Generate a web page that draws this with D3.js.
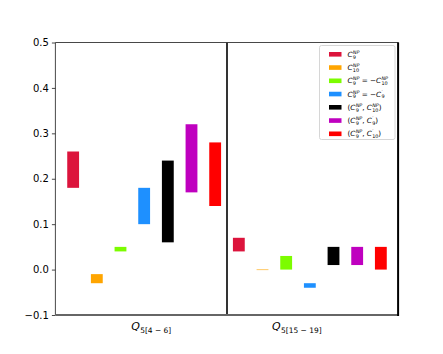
<!DOCTYPE html>
<html><head><meta charset="utf-8">
<script src="https://cdn.jsdelivr.net/npm/d3@7"></script>
<style>body{margin:0;background:#fff}svg{display:block}</style>
</head><body>
<svg id="c" width="443" height="354"></svg>
<script>
// ---- data ----
const seriesNames = ["C9NP","C10NP","C9NP=-C10NP","C9NP=-C9p","(C9NP,C10NP)","(C9NP,C9p)","(C9NP,C10p)"];
const seriesColors = ["#DC143C","#FFA500","#7CFC00","#1E90FF","#000000","#BF00BF","#FF0000"];
const groups = ["Q5[4-6]","Q5[15-19]"];
const lowBin = [0.18,-0.03,0.04,0.10,0.06,0.17,0.14];
const highBin = [0.26,-0.01,0.05,0.18,0.24,0.32,0.28];
const lowBin2 = [0.04,-0.001,0.00,-0.04,0.01,0.01,0.00];
const highBin2 = [0.07,0.001,0.03,-0.03,0.05,0.05,0.05];
const groupLabelSub = ["5[4 \u2212 6]","5[15 \u2212 19]"];
const groupLabelPos = [3.3,9.45];
const yTicks = [-0.1,0.0,0.1,0.2,0.3,0.4,0.5];
const legendLabels = [
  [["C",{sub:"9",sup:"NP"}]],
  [["C",{sub:"10",sup:"NP"}]],
  [["C",{sub:"9",sup:"NP"}],[" = \u2212"],["C",{sub:"10",sup:"NP"}]],
  [["C",{sub:"9",sup:"NP"}],[" = \u2212"],["C",{sub:"9",sup:"\u2032"}]],
  [["("],["C",{sub:"9",sup:"NP"}],[", "],["C",{sub:"10",sup:"NP"}],[")"]],
  [["("],["C",{sub:"9",sup:"NP"}],[", "],["C",{sub:"9",sup:"\u2032"}],[")"]],
  [["("],["C",{sub:"9",sup:"NP"}],[", "],["C",{sub:"10",sup:"\u2032"}],[")"]]
];

// build bar table
const bars = [];
[ [lowBin,highBin], [lowBin2,highBin2] ].forEach((pair,g)=>{
  pair[0].forEach((lo,i)=>bars.push({idx:g*7+i, lo:lo, hi:pair[1][i], color:seriesColors[i]}));
});

const svg = d3.select("#c");
const L=55.4,R=398.6,T=42.5,B=315;
const x = d3.scaleLinear().domain([-0.75,13.75]).range([L,R]);
const y = d3.scaleLinear().domain([-0.1,0.5]).range([B,T]);
const font = "DejaVu Sans, sans-serif";

// bars
const bw = x(0.5)-x(0);
svg.append("g").selectAll("rect").data(bars).join("rect")
  .attr("x",d=>x(d.idx)-bw/2).attr("width",bw)
  .attr("y",d=>y(d.hi)).attr("height",d=>Math.max(1,y(d.lo)-y(d.hi)))
  .attr("fill",d=>d.color)
  .attr("opacity",d=>(d.hi-d.lo)<0.005?0.6:1);

// divider
svg.append("line").attr("x1",x(6.5)).attr("x2",x(6.5)).attr("y1",T).attr("y2",B)
  .attr("stroke","#000").attr("stroke-width",1.6);

// spines
svg.append("line").attr("x1",L).attr("x2",R).attr("y1",T).attr("y2",T).attr("stroke","#333").attr("stroke-width",0.9);
svg.append("line").attr("x1",L).attr("x2",L).attr("y1",T).attr("y2",B).attr("stroke","#333").attr("stroke-width",0.9);
svg.append("line").attr("x1",L).attr("x2",R).attr("y1",B).attr("y2",B).attr("stroke","#666").attr("stroke-width",2);
svg.append("line").attr("x1",R-0.5).attr("x2",R-0.5).attr("y1",T).attr("y2",B+1).attr("stroke","#000").attr("stroke-width",2);

// y axis
const yAxis = d3.axisLeft(y).tickValues(yTicks).tickSize(3.5).tickPadding(3)
  .tickFormat(d=>d3.format(".1f")(d).replace("-","\u2212"));
const ga = svg.append("g").attr("transform",`translate(${L},0)`).call(yAxis);
ga.select(".domain").remove();
ga.selectAll(".tick line").attr("stroke","#333").attr("stroke-width",0.9);
ga.selectAll(".tick text").attr("font-family",font).attr("font-size",10).attr("fill","#000");

// measuring helper
const meas = svg.append("text").attr("font-family",font).style("white-space","pre").attr("visibility","hidden");
function textW(s, fs, italic){
  meas.attr("font-size",fs).attr("font-style",italic?"italic":"normal").text(s);
  return meas.node().getComputedTextLength();
}

// math rendering: one <text> per label, absolute-positioned tspans
function drawMath(parent, x0, yBase, tokens, fs){
  const t = parent.append("text").attr("font-family",font).attr("font-size",fs).style("white-space","pre");
  let cx = x0;
  tokens.forEach(tok=>{
    tok.forEach(p=>{
      if(typeof p === "string"){
        const isVar = (p==="C"||p==="Q");
        t.append("tspan").attr("x",cx).attr("y",yBase).attr("font-style",isVar?"italic":"normal").text(p);
        cx += textW(p,fs,isVar) + (isVar?0.3:0);
      } else {
        let w=0;
        const sfs = fs*0.68;
        if(p.sup){
          t.append("tspan").attr("x",cx).attr("y",yBase-fs*0.42).attr("font-size",sfs).attr("font-style","italic").text(p.sup);
          w = Math.max(w,textW(p.sup,sfs,true));
        }
        if(p.sub){
          t.append("tspan").attr("x",cx).attr("y",yBase+fs*0.24).attr("font-size",sfs).text(p.sub);
          w = Math.max(w,textW(p.sub,sfs,false));
        }
        cx += w;
      }
    });
  });
  return {g:t,width:cx-x0};
}

// x labels
groups.forEach((gname,i)=>{
  const lab = drawMath(svg,0,330,[["Q",{sub:groupLabelSub[i]}]],11);
  lab.g.attr("transform",`translate(${x(groupLabelPos[i])-lab.width/2},0)`);
});

// legend
const lg = svg.append("g");
lg.append("rect").attr("x",319.5).attr("y",45.5).attr("width",75.5).attr("height",94)
  .attr("rx",2).attr("fill","#fff").attr("fill-opacity",0.8).attr("stroke","#d6d6d6").attr("stroke-width",1);
legendLabels.forEach((lab,i)=>{
  const cy = 54.3 + i*13.25;
  lg.append("rect").attr("x",329).attr("y",cy-2.3).attr("width",12.5).attr("height",4.6).attr("fill",seriesColors[i]);
  drawMath(lg,347.5,cy+2.6,lab,7.2);
});
meas.remove();
</script>
</body></html>
